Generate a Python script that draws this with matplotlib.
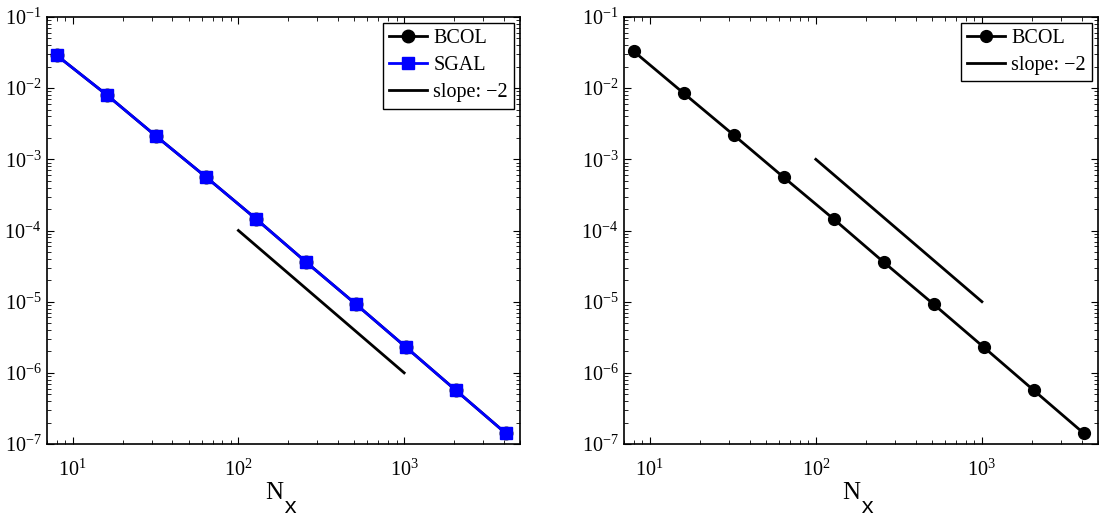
import matplotlib
matplotlib.use("Agg")
import matplotlib.pyplot as plt
from matplotlib.ticker import LogLocator, NullFormatter, FixedLocator

plt.rcParams['font.family'] = ['Liberation Serif', 'DejaVu Serif']
plt.rcParams['mathtext.fontset'] = 'custom'
plt.rcParams['mathtext.rm'] = 'Liberation Serif'
plt.rcParams['mathtext.it'] = 'Liberation Serif:italic'
plt.rcParams['mathtext.bf'] = 'Liberation Serif:bold'

N = [8, 16, 32, 64, 128, 256, 512, 1024, 2048, 4096]
bcol_left = [0.029, 0.0081, 0.0021, 5.6e-4, 1.45e-4, 3.6e-5, 9.2e-6, 2.3e-6, 5.7e-7, 1.42e-7]
sgal_left = [0.029, 0.0081, 0.0021, 5.6e-4, 1.45e-4, 3.6e-5, 9.2e-6, 2.3e-6, 5.7e-7, 1.42e-7]
bcol_right = [0.033, 0.0085, 0.0022, 5.6e-4, 1.45e-4, 3.6e-5, 9.2e-6, 2.3e-6, 5.7e-7, 1.42e-7]
slope_x = [100, 1000]
slope_left_y = [1e-4, 1e-6]
slope_right_y = [1e-3, 1e-5]
y_ticks = [1e-7, 1e-6, 1e-5, 1e-4, 1e-3, 1e-2, 1e-1]
x_ticks = [10, 100, 1000]

W, H = 1099, 516
fig = plt.figure(figsize=(W / 100, H / 100), dpi=100)
ax1 = fig.add_axes([47 / W, 1 - 444 / H, 473 / W, 427 / H])
ax2 = fig.add_axes([624 / W, 1 - 444 / H, 474 / W, 427 / H])

ax1.loglog(N, bcol_left, '-o', color='black', lw=2, ms=9, label='BCOL')
ax1.loglog(N, sgal_left, '-s', color='#0000ff', lw=2, ms=8, label='SGAL')
ax1.loglog(slope_x, slope_left_y, '-', color='black', lw=2, label='slope: \u22122')

ax2.loglog(N, bcol_right, '-o', color='black', lw=2, ms=8.5, label='BCOL')
ax2.loglog(slope_x, slope_right_y, '-', color='black', lw=2, label='slope: \u22122')

for ax, xoff in ((ax1, 0), (ax2, 577)):
    ax.set_xlim(7, 5000)
    ax.set_ylim(1e-7, 1e-1)
    ax.yaxis.set_major_locator(FixedLocator(y_ticks))
    ax.xaxis.set_major_locator(FixedLocator(x_ticks))
    ax.yaxis.set_minor_locator(LogLocator(base=10, subs=range(2, 10), numticks=20))
    ax.yaxis.set_minor_formatter(NullFormatter())
    ax.xaxis.set_minor_formatter(NullFormatter())
    ax.tick_params(which='both', direction='in', top=True, right=True, labelsize=14.5)
    ax.tick_params(which='major', length=5, width=0.8)
    ax.tick_params(which='minor', length=3, width=0.6)
    ax.tick_params(axis='x', pad=11)
    ax.tick_params(axis='y', pad=4)
    for s in ax.spines.values():
        s.set_linewidth(1.2)
    leg = ax.legend(loc='upper right', fontsize=14.5, frameon=True, fancybox=False,
                    edgecolor='black', framealpha=1, handlelength=1.9,
                    borderaxespad=0.3, borderpad=0.3, labelspacing=0.4,
                    handletextpad=0.3)
    leg.get_frame().set_linewidth(1.0)
    # x-axis label: "N" with a large typewriter subscript "x"
    fig.text((265 + xoff) / W, 1 - 499 / H, 'N', fontsize=18,
             family='Liberation Serif', ha='left', va='baseline')
    fig.text((284 + xoff) / W, 1 - 513 / H, 'x', fontsize=16,
             family='Liberation Mono', ha='left', va='baseline')

fig.savefig('out.png', dpi=100)
